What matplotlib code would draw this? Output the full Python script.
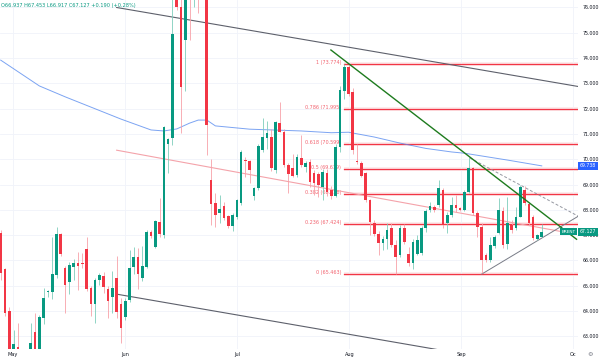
import matplotlib
matplotlib.use('Agg')
import matplotlib.pyplot as plt
import matplotlib.transforms as mtransforms
import numpy as np

# daily candles, BRENT (bar index = position on the chart, Sunday bars included)
opens = [67.10, 65.65, 64.01, 61.50, 62.59, 61.20, 60.50, 60.30, 63.19, 62.30,
         63.71, 64.74, 64.77, 65.43, 67.06, 65.72, 65.14, 65.76, 65.89, 65.92,
         66.45, 64.90, 64.28, 65.23, 65.39, 64.86, 64.55, 65.30, 64.28, 63.78,
         64.44, 65.73, 66.13, 65.30, 65.76, 67.14, 66.55, 67.53, 67.00, 70.60,
         70.83, 77.20, 76.00, 74.72, 77.80, 76.80, 78.30, 78.00, 79.00, 69.18,
         68.28, 67.87, 68.15, 67.76, 67.38, 67.73, 68.26, 69.96, 69.94, 68.55,
         68.85, 70.37, 70.83, 70.89, 69.58, 71.42, 71.09, 69.78, 69.64, 69.38,
         70.04, 69.68, 69.91, 69.45, 69.40, 68.90, 69.45, 68.80, 68.55, 70.50,
         72.70, 73.66, 72.65, 69.95, 69.87, 69.45, 68.40, 67.50, 67.05, 66.70,
         66.86, 67.27, 66.60, 66.22, 67.27, 66.26, 65.89, 66.26, 66.31, 67.30,
         68.00, 68.12, 68.19, 68.79, 67.47, 67.80, 68.19, 68.06, 67.99, 68.72,
         69.64, 67.87, 67.32, 66.22, 66.02, 66.57, 67.09, 67.96, 66.65, 67.40,
         67.27, 67.73, 68.79, 68.23, 67.73, 66.84, 66.937]
highs = [67.21, 65.70, 64.17, 63.25, 63.54, 61.60, 61.30, 63.52, 63.91, 63.85,
         64.90, 64.85, 66.94, 67.34, 67.10, 65.78, 65.95, 66.05, 66.35, 66.30,
         66.94, 64.98, 65.30, 65.49, 65.56, 64.99, 65.60, 66.18, 64.51, 64.50,
         66.41, 66.55, 66.48, 66.57, 67.20, 67.20, 67.60, 68.46, 71.30, 70.85,
         76.80, 77.60, 76.40, 77.30, 78.50, 78.90, 79.00, 81.40, 81.00, 70.00,
         68.66, 68.59, 68.30, 67.80, 67.88, 68.45, 70.35, 70.10, 69.97, 68.89,
         70.60, 71.62, 71.50, 71.20, 71.52, 72.27, 71.20, 69.84, 70.20, 70.20,
         70.96, 69.95, 70.00, 69.58, 69.50, 69.60, 69.60, 68.95, 70.60, 72.90,
         73.774, 73.77, 72.80, 70.60, 69.95, 69.50, 68.45, 67.60, 67.15, 66.95,
         67.50, 67.50, 66.80, 67.40, 67.45, 66.55, 66.85, 67.00, 67.35, 68.02,
         68.30, 68.20, 69.18, 68.85, 67.90, 68.50, 68.60, 68.10, 68.80, 70.10,
         69.70, 67.95, 67.47, 66.30, 66.92, 67.00, 68.46, 68.10, 68.52, 67.60,
         68.10, 69.00, 68.95, 68.30, 67.80, 67.05, 67.453]
lows = [65.23, 63.80, 60.80, 61.30, 61.00, 60.80, 58.40, 60.10, 61.90, 62.20,
        63.49, 64.55, 64.47, 65.30, 66.19, 63.94, 64.66, 65.23, 64.83, 65.70,
        64.81, 63.81, 63.54, 65.03, 64.70, 63.71, 63.92, 63.72, 62.75, 63.65,
        64.37, 65.47, 64.86, 65.20, 65.70, 66.90, 66.50, 66.92, 66.90, 69.45,
        70.56, 75.90, 71.03, 72.70, 74.72, 76.00, 75.80, 77.50, 70.17, 67.40,
        67.34, 67.47, 67.60, 67.30, 67.18, 67.65, 68.20, 69.30, 69.05, 68.39,
        68.80, 70.30, 70.40, 69.55, 69.45, 71.07, 69.70, 68.66, 69.30, 69.30,
        69.71, 69.50, 68.90, 68.59, 68.50, 68.40, 68.55, 68.45, 68.50, 70.30,
        72.40, 72.50, 70.20, 69.80, 69.30, 68.30, 67.00, 66.95, 66.22, 66.40,
        66.45, 66.55, 65.463, 66.15, 66.65, 65.80, 65.65, 66.20, 66.20, 67.14,
        67.90, 67.90, 68.10, 67.30, 67.08, 67.73, 67.90, 67.95, 67.95, 68.68,
        67.80, 66.94, 65.50, 65.95, 65.95, 66.50, 67.05, 66.50, 66.45, 67.10,
        67.20, 67.70, 68.20, 67.40, 66.80, 66.80, 66.917]
closes = [65.49, 63.91, 61.10, 62.70, 61.30, 61.00, 60.20, 62.72, 62.30, 63.78,
          64.51, 64.79, 65.47, 67.06, 66.27, 65.03, 65.82, 65.89, 65.79, 65.88,
          64.87, 64.27, 65.23, 65.41, 64.94, 64.41, 64.90, 63.98, 63.32, 64.41,
          65.69, 66.15, 65.47, 65.78, 67.14, 66.97, 67.57, 67.05, 71.26, 70.81,
          74.95, 76.00, 72.85, 76.80, 76.80, 78.30, 77.00, 79.00, 71.36, 68.22,
          67.80, 68.02, 67.69, 67.38, 67.80, 68.39, 70.30, 69.93, 69.58, 68.85,
          70.53, 70.89, 71.02, 69.64, 71.49, 71.09, 69.78, 69.42, 69.35, 70.10,
          69.78, 69.87, 69.12, 69.05, 69.00, 69.50, 68.70, 68.55, 70.50, 72.73,
          73.66, 72.60, 70.37, 69.90, 69.35, 68.40, 67.53, 67.05, 66.70, 66.86,
          67.20, 66.61, 66.15, 67.27, 66.74, 65.92, 66.74, 66.81, 67.27, 67.95,
          68.15, 68.00, 68.85, 67.40, 67.80, 68.19, 68.06, 67.99, 68.72, 69.64,
          67.87, 67.32, 66.02, 66.02, 66.61, 66.94, 67.99, 66.61, 67.47, 67.21,
          67.73, 68.92, 68.26, 67.47, 66.88, 67.00, 67.127]

# moving average (bar, value)
ma_bars = [0, 9, 15, 28, 35, 38, 41, 44, 46, 48, 50, 58, 70, 77, 81, 87, 93, 99, 105, 108, 118, 126]
ma_vals = [73.92, 72.90, 72.47, 71.59, 71.16, 71.12, 71.20, 71.43, 71.55, 71.55, 71.32,
           71.19, 71.12, 71.05, 71.07, 70.88, 70.64, 70.43, 70.29, 70.24, 69.97, 69.74]
ma_last = 69.738

# drawn lines (bar, price)
channel_upper = [(27.0, 76.0), (134.4, 72.88)]
channel_lower = [(27.0, 64.67), (134.4, 61.52)]
pink_line = [(27.0, 70.36), (131.0, 67.13)]
green_trend = [(76.9, 74.32), (134.1, 66.84)]
tri_upper = [(109.3, 70.05), (134.4, 67.76)]
tri_lower = [(112.0, 65.46), (134.4, 67.74)]

# fibonacci retracement
fib_ratios = ['1', '0.786', '0.618', '0.5', '0.382', '0.236', '0']
fib_levels = [73.774, 71.995, 70.599, 69.619, 68.638, 67.424, 65.463]
fib_start = 80

month_pos = [2.9, 29.0, 55.0, 81.2, 107.2, 133.3]
month_lbl = ['May', 'Jun', 'Jul', 'Aug', 'Sep', 'Oc']
yticks = list(range(63, 77))
last_price = 67.127
header = 'O66.937 H67.453 L66.917 C67.127 +0.190 (+0.28%)'

GREEN = '#089981'
RED = '#f23645'

fig = plt.figure(figsize=(6, 3.6), dpi=100)
ax = fig.add_axes([0, 11/360, 578/600, 349/360])
ax.set_xlim(-0.16, 134.44)
ax.set_ylim(62.502, 76.296)

ax.grid(True, color='#f0f3fa', lw=0.6, zorder=0)
for s in ax.spines.values():
    s.set_visible(False)

o = np.array(opens); h = np.array(highs); l = np.array(lows); c = np.array(closes)
x = np.arange(len(o))
up = c >= o
body_col = np.where(up, GREEN, RED)
wick_col = np.where(up, '#7fcdbb', '#f7a1a8')

# fib lines and labels (behind candles)
for r, lv in zip(fib_ratios, fib_levels):
    ax.plot([fib_start, 134.44], [lv, lv], color=RED, lw=2.6, alpha=0.12, zorder=1, solid_capstyle='butt')
    ax.plot([fib_start, 134.44], [lv, lv], color=RED, lw=0.9, zorder=2)
    ax.text(79.3, lv + 0.06, '%s (%.3f)' % (r, lv), fontsize=3.5, color='#f26470',
            ha='right', va='center', zorder=1)

ax.plot(ma_bars, ma_vals, color='#5b8def', lw=0.7, alpha=0.8, zorder=2)

def seg(pts, **kw):
    ax.plot([p[0] for p in pts], [p[1] for p in pts], **kw)

seg(channel_upper, color='#5d606b', lw=0.8, zorder=2)
seg(channel_lower, color='#5d606b', lw=0.8, zorder=2)
seg(pink_line, color='#f4a3aa', lw=0.8, zorder=2)
seg(tri_upper, color='#9598a1', lw=0.7, ls=(0, (3, 2)), zorder=2)
seg(tri_lower, color='#787b86', lw=0.7, zorder=2)

# candles
ax.vlines(x, l, h, colors=wick_col, lw=0.6, zorder=3)
ax.bar(x, np.maximum(np.abs(c - o), 0.03), bottom=np.minimum(o, c), width=0.62,
       color=body_col, lw=0, zorder=4)

seg(green_trend, color='#1e7b1e', lw=1.0, zorder=5)

# axes labels
ax.yaxis.tick_right()
ax.set_yticks(yticks)
ax.set_yticklabels(['%.3f' % v for v in yticks])
ax.tick_params(axis='y', length=0, pad=3, labelsize=3.4, labelcolor='#131722')
ax.set_xticks(month_pos)
ax.set_xticklabels(month_lbl)
ax.tick_params(axis='x', length=0, pad=2, labelsize=3.6, labelcolor='#131722')

trans = mtransforms.blended_transform_factory(ax.transAxes, ax.transData)
ax.text(1.003, ma_last, '%.3f' % ma_last, transform=trans, fontsize=3.3, color='white',
        ha='left', va='center', zorder=10, clip_on=False,
        bbox=dict(boxstyle='square,pad=0.35', fc='#2962ff', ec='none'))
ax.text(1.003, last_price, '%.3f' % last_price, transform=trans, fontsize=3.3, color='white',
        ha='left', va='center', zorder=10, clip_on=False,
        bbox=dict(boxstyle='square,pad=0.35', fc=GREEN, ec='none'))
ax.text(0.971, last_price, 'BRENT', transform=trans, fontsize=3.1, color='white',
        ha='left', va='center', zorder=10, clip_on=False,
        bbox=dict(boxstyle='square,pad=0.35', fc=GREEN, ec='none'))

fig.text(1/600, 1 - 5/360, header, fontsize=3.6, color=GREEN, ha='left', va='center')
fig.text(590/600, 5/360, '\u2699', fontsize=4.5, color='#787b86', ha='center', va='center')

fig.savefig('out.png', dpi=100)
